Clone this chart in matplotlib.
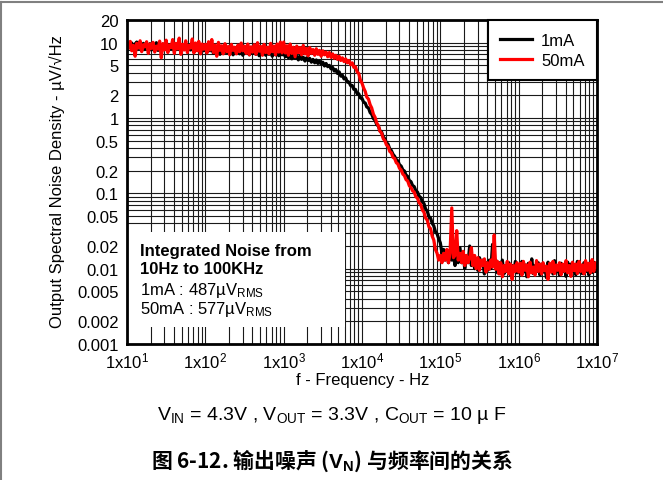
import matplotlib
matplotlib.use('Agg')
import matplotlib.pyplot as plt
from matplotlib.lines import Line2D
from matplotlib.patches import Rectangle
from matplotlib.ticker import FixedLocator, LogLocator, NullFormatter

plt.rcParams['font.family'] = ['Liberation Sans', 'DejaVu Sans']
plt.rcParams['mathtext.fontset'] = 'custom'
plt.rcParams['mathtext.rm'] = 'Liberation Sans'
plt.rcParams['mathtext.bf'] = 'Liberation Sans:bold'
plt.rcParams['mathtext.it'] = 'Liberation Sans:italic'

# frequency grid: E48 steps per decade, 10 Hz .. 10 MHz
E48 = [1.00, 1.05, 1.10, 1.15, 1.21, 1.27, 1.33, 1.40, 1.47, 1.54, 1.62, 1.69,
       1.78, 1.87, 1.96, 2.05, 2.15, 2.26, 2.37, 2.49, 2.61, 2.74, 2.87, 3.01,
       3.16, 3.32, 3.48, 3.65, 3.83, 4.02, 4.22, 4.42, 4.64, 4.87, 5.11, 5.36,
       5.62, 5.90, 6.19, 6.49, 6.81, 7.15, 7.50, 7.87, 8.25, 8.66, 9.09, 9.53]
DECADES = [1e1, 1e2, 1e3, 1e4, 1e5, 1e6]
freq = [m * d for d in DECADES for m in E48] + [1e7]

# noise density, uV/rtHz (one decade per two rows)
noise_1ma = [
    8.0, 9.3, 8.6, 9.9, 8.4, 9.6, 10.2, 8.3, 9.5, 8.8, 9.8, 8.1, 9.2, 8.5, 9.7, 8.0, 9.4, 8.7, 10.0, 7.9, 9.1, 8.4, 9.6, 8.2,
    9.3, 7.8, 8.9, 8.3, 9.5, 7.7, 9.0, 8.4, 9.2, 7.6, 8.8, 8.1, 9.3, 7.9, 8.6, 8.0, 9.1, 7.5, 8.7, 7.9, 8.9, 7.6, 8.5, 7.8,
    8.4, 7.5, 8.7, 7.8, 8.2, 7.2, 8.5, 7.6, 8.0, 7.0, 8.3, 7.4, 8.6, 7.3, 7.9, 7.6, 8.1, 6.9, 7.8, 7.4, 8.2, 7.1, 7.7, 6.8,
    8.0, 7.3, 7.6, 6.9, 8.1, 7.2, 7.5, 7.0, 7.9, 6.7, 7.6, 7.2, 7.8, 6.8, 7.4, 7.0, 7.7, 6.6, 7.3, 6.9, 7.6, 6.7, 7.2, 6.9,
    7.2, 6.5, 7.0, 6.3, 6.9, 6.1, 6.8, 6.2, 6.6, 5.9, 6.7, 6.0, 6.4, 5.7, 6.3, 5.8, 6.2, 5.5, 6.0, 5.4, 5.9, 5.3, 5.7, 5.2,
    5.5, 4.9, 5.3, 4.8, 5.0, 4.5, 4.7, 4.2, 4.4, 3.9, 4.1, 3.6, 3.7, 3.3, 3.4, 3.0, 3.0, 2.7, 2.7, 2.4, 2.4, 2.1, 2.1, 1.85,
    1.82, 1.62, 1.58, 1.40, 1.36, 1.18, 1.12, 0.98, 0.93, 0.82, 0.78, 0.68, 0.65, 0.56, 0.53, 0.47, 0.45, 0.39, 0.37, 0.33, 0.31, 0.28, 0.27, 0.24,
    0.23, 0.205, 0.198, 0.175, 0.168, 0.148, 0.143, 0.127, 0.123, 0.108, 0.104, 0.092, 0.088, 0.077, 0.073, 0.062, 0.058, 0.049, 0.047, 0.040, 0.037, 0.031, 0.029, 0.025,
    0.022, 0.016, 0.018, 0.013, 0.016, 0.012, 0.017, 0.013, 0.015, 0.011, 0.016, 0.012, 0.019, 0.012, 0.015, 0.010, 0.014, 0.012, 0.020, 0.011, 0.014, 0.010, 0.013, 0.0095,
    0.014, 0.011, 0.013, 0.0085, 0.012, 0.0095, 0.013, 0.010, 0.021, 0.011, 0.013, 0.0088, 0.012, 0.0092, 0.013, 0.0085, 0.011, 0.0095, 0.012, 0.0082, 0.011, 0.0092, 0.0125, 0.0088,
    0.0105, 0.0085, 0.0125, 0.009, 0.0112, 0.0078, 0.0118, 0.0092, 0.0135, 0.0086, 0.011, 0.0095, 0.012, 0.0082, 0.0115, 0.009, 0.0108, 0.0076, 0.0122, 0.0095, 0.0112, 0.0085, 0.0128, 0.009,
    0.011, 0.0082, 0.0118, 0.0092, 0.0105, 0.0079, 0.0122, 0.0088, 0.0115, 0.0092, 0.0108, 0.0083, 0.0125, 0.009, 0.0112, 0.0086, 0.012, 0.0093, 0.011, 0.0082, 0.0118, 0.0089, 0.0122, 0.0092,
    0.0105,
]
noise_50ma = [
    9.9, 8.4, 10.4, 7.8, 9.2, 6.6, 9.8, 8.5, 10.6, 7.6, 9.4, 8.8, 10.3, 7.2, 9.6, 8.4, 10.1, 7.5, 9.0, 8.2, 10.5, 6.3, 9.7, 8.0,
    10.8, 7.4, 9.3, 8.6, 11.0, 7.2, 9.8, 8.3, 11.5, 7.0, 9.5, 8.0, 10.6, 7.4, 9.2, 8.5, 11.2, 7.3, 9.9, 7.8, 10.4, 7.1, 9.6, 8.2,
    9.5, 7.3, 10.3, 8.0, 11.0, 7.4, 9.3, 6.6, 10.1, 7.9, 9.1, 7.1, 9.7, 7.6, 8.9, 6.9, 9.5, 7.9, 8.7, 7.1, 9.3, 7.6, 9.9, 7.8,
    9.0, 7.2, 9.6, 6.9, 8.8, 7.5, 9.4, 7.0, 10.0, 7.7, 8.9, 6.8, 9.5, 7.4, 8.7, 7.1, 9.8, 7.6, 9.0, 6.9, 9.6, 7.5, 10.2, 7.3,
    10.2, 7.3, 9.1, 6.8, 9.6, 7.2, 8.7, 6.5, 9.0, 7.4, 8.6, 6.9, 9.2, 7.1, 8.4, 6.7, 8.6, 7.2, 8.1, 6.8, 8.3, 7.0, 7.9, 6.6,
    7.8, 6.9, 7.5, 6.5, 7.4, 6.4, 7.1, 6.2, 6.8, 6.0, 6.6, 5.8, 6.3, 5.6, 6.1, 5.4, 5.8, 5.1, 5.4, 4.7, 4.8, 4.1, 3.9, 3.2,
    2.9, 2.5, 2.25, 1.9, 1.78, 1.5, 1.36, 1.12, 1.02, 0.86, 0.79, 0.67, 0.63, 0.53, 0.50, 0.44, 0.42, 0.36, 0.345, 0.30, 0.29, 0.255, 0.245, 0.215,
    0.205, 0.18, 0.172, 0.152, 0.146, 0.126, 0.12, 0.108, 0.104, 0.09, 0.086, 0.075, 0.071, 0.060, 0.056, 0.047, 0.044, 0.036, 0.034, 0.027, 0.024, 0.018, 0.016, 0.013,
    0.015, 0.012, 0.016, 0.013, 0.018, 0.012, 0.016, 0.064, 0.014, 0.015, 0.032, 0.013, 0.016, 0.012, 0.017, 0.011, 0.015, 0.012, 0.014, 0.019, 0.011, 0.015, 0.010, 0.014,
    0.0095, 0.013, 0.011, 0.0135, 0.009, 0.012, 0.0098, 0.013, 0.0105, 0.028, 0.0098, 0.0125, 0.0085, 0.012, 0.0078, 0.011, 0.0092, 0.0125, 0.0085, 0.0115, 0.0072, 0.011, 0.0092, 0.012,
    0.009, 0.0118, 0.0082, 0.0125, 0.0095, 0.0112, 0.0078, 0.0122, 0.0088, 0.0105, 0.0082, 0.0128, 0.0092, 0.0115, 0.0085, 0.012, 0.0094, 0.0108, 0.0072, 0.0118, 0.009, 0.0125, 0.0086, 0.0112,
    0.0095, 0.012, 0.0083, 0.0115, 0.0092, 0.0128, 0.0088, 0.011, 0.0079, 0.0122, 0.0094, 0.0115, 0.0086, 0.0125, 0.0092, 0.0112, 0.0085, 0.0128, 0.0095, 0.0118, 0.0088, 0.0132, 0.0092, 0.012,
    0.0105,
]

y_ticks = [0.001, 0.002, 0.005, 0.01, 0.02, 0.05, 0.1, 0.2, 0.5, 1, 2, 5, 10, 20]
y_labels = ['0.001', '0.002', '0.005', '0.01', '0.02', '0.05', '0.1', '0.2',
            '0.5', '1', '2', '5', '10', '20']
x_ticks = [1e1, 1e2, 1e3, 1e4, 1e5, 1e6, 1e7]
x_labels = ['1x10$^{%d}$' % n for n in range(1, 8)]

W, H = 663, 481
fig = plt.figure(figsize=(W / 100, H / 100), dpi=100)
ax = fig.add_axes([127 / W, 1 - 345 / H, 470 / W, 324 / H])

ax.plot(freq, noise_1ma, color='black', lw=2.3, label='1mA', zorder=2)
ax.plot(freq, noise_50ma, color='#ff0000', lw=2.3, label='50mA', zorder=2.1)

ax.set_xscale('log')
ax.set_yscale('log')
ax.set_xlim(10, 1e7)
ax.set_ylim(0.001, 20)

ax.yaxis.set_major_locator(FixedLocator(y_ticks))
ax.set_yticklabels(y_labels)
ax.yaxis.set_minor_locator(LogLocator(base=10, subs=range(1, 10), numticks=20))
ax.yaxis.set_minor_formatter(NullFormatter())
ax.xaxis.set_major_locator(FixedLocator(x_ticks))
ax.set_xticklabels(x_labels)
ax.xaxis.set_minor_locator(LogLocator(base=10, subs=range(2, 10), numticks=20))
ax.xaxis.set_minor_formatter(NullFormatter())

ax.tick_params(which='both', length=0, labelsize=12)
ax.tick_params(axis='y', pad=6)
ax.tick_params(axis='x', pad=5)
ax.grid(which='both', color='#1a1a1a', lw=0.8)
for s in ax.spines.values():
    s.set_linewidth(2)

leg = ax.legend(loc='upper right', borderaxespad=0, fancybox=False, edgecolor='black',
                framealpha=1, fontsize=12, handlelength=1.9, labelspacing=0.3,
                borderpad=0.75, handletextpad=0.55)
leg.get_frame().set_linewidth(1.5)

# integrated noise box
ax.add_patch(Rectangle((0, 0.052), 0.464, 0.294, transform=ax.transAxes,
                       facecolor='white', edgecolor='none', zorder=2.2))
ax.text(0.028, 0.275, 'Integrated Noise from', transform=ax.transAxes,
        fontsize=12, fontweight='bold', zorder=4)
ax.text(0.028, 0.219, '10Hz to 100KHz', transform=ax.transAxes,
        fontsize=12, fontweight='bold', zorder=4)
ax.text(0.028, 0.154, '1mA : 487µV$_{\\mathrm{RMS}}$', transform=ax.transAxes,
        fontsize=12, zorder=4)
ax.text(0.028, 0.096, '50mA : 577µV$_{\\mathrm{RMS}}$', transform=ax.transAxes,
        fontsize=12, zorder=4)

fig.text(57 / W, 1 - 182 / H, 'Output Spectral Noise Density - µV/√Hz',
         rotation=90, ha='center', va='center', fontsize=12)
fig.text(363 / W, 1 - 381 / H, 'f - Frequency - Hz', ha='center', va='center', fontsize=12)
fig.text(332 / W, 1 - 416 / H,
         'V$_{\\mathrm{IN}}$ = 4.3V , V$_{\\mathrm{OUT}}$ = 3.3V , C$_{\\mathrm{OUT}}$ = 10 µ F',
         ha='center', va='center', fontsize=14)
fig.text(332 / W, 1 - 461 / H,
         '图 6-12. 输出噪声 ($\\mathbf{V}_\\mathbf{N}$) 与频率间的关系',
         ha='center', va='center', fontsize=15, fontweight='bold',
         family='Noto Sans CJK SC')

# page frame lines
fig.add_artist(Line2D([0, 1], [1 - 3 / H] * 2, color='#808080', lw=1.5))
fig.add_artist(Line2D([1 / W] * 2, [0, 1 - 3 / H], color='#808080', lw=1.5))

fig.savefig('out.png', dpi=100)
